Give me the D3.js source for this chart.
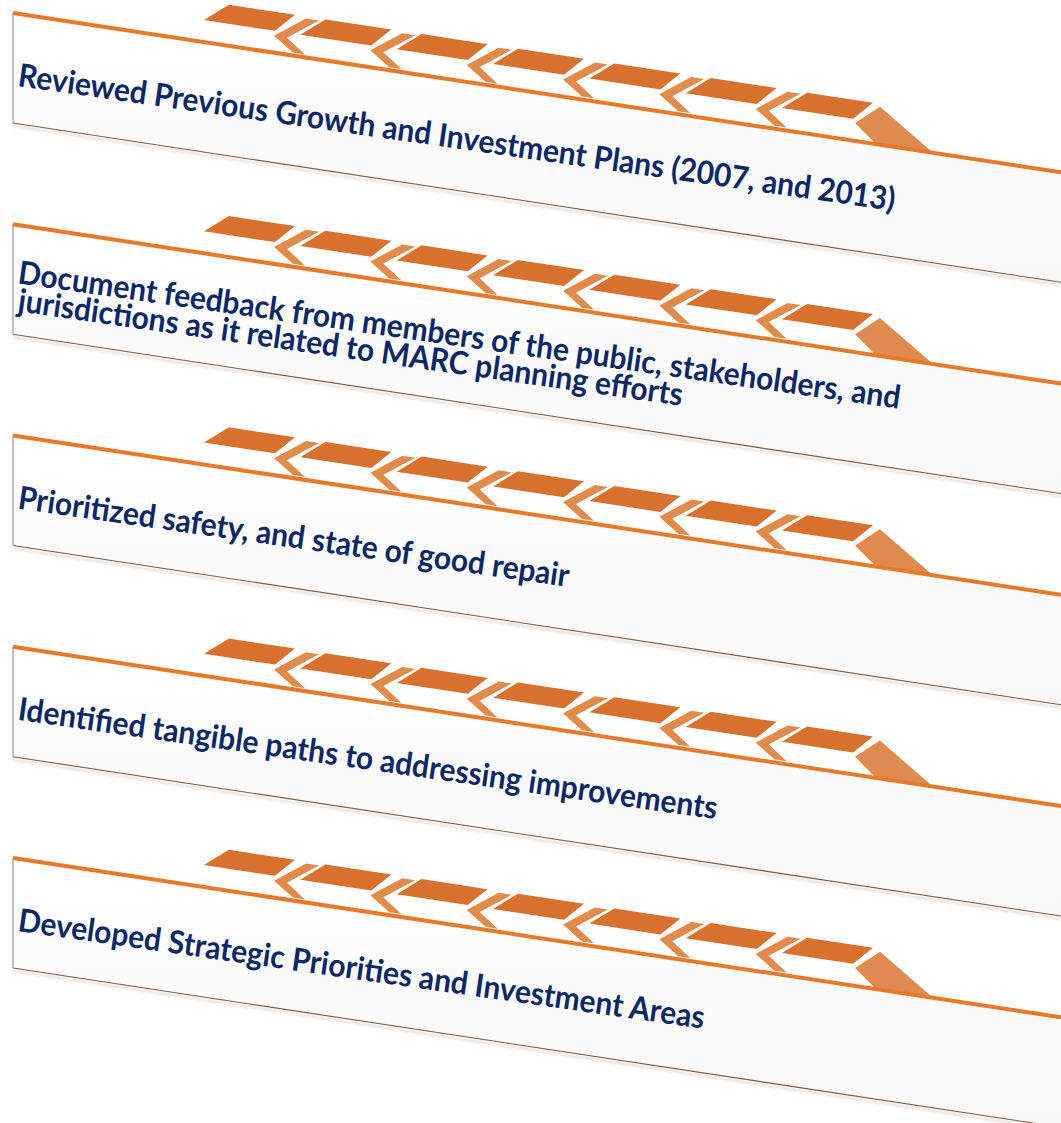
<!DOCTYPE html>
<html>
<head>
<meta charset="utf-8">
<script src="https://cdn.jsdelivr.net/npm/d3@7"></script>
<style>
  body { margin: 0; background: #fff; }
  svg { display: block; }
</style>
</head>
<body>
<svg id="chart"></svg>
<script>
// steps, top to bottom
const stepIds = ["s1", "s2", "s3", "s4", "s5"];
const stepLines = [
  ["Reviewed Previous Growth and Investment Plans (2007, and 2013)"],
  ["Document feedback from members of the public, stakeholders, and",
   "jurisdictions as it related to MARC planning efforts"],
  ["Prioritized safety, and state of good repair"],
  ["Identified tangible paths to addressing improvements"],
  ["Developed Strategic Priorities and Investment Areas"]
];
// track blocks on top of every step and the chevrons between them
const blockIds = [0, 1, 2, 3, 4, 5, 6];
const chevronIds = [0, 1, 2, 3, 4, 5];

const width = 1061, height = 1123;
const left = 13;
const bandH = 110;
const slope = 0.152;
const textAngle = 8.1;
const refTextLen = 886;

const svg = d3.select("#chart")
  .attr("width", width)
  .attr("height", height);

const defs = svg.append("defs");
const grad = defs.append("linearGradient")
  .attr("id", "bandFill")
  .attr("x1", 0).attr("y1", 0).attr("x2", 0).attr("y2", 1);
grad.append("stop").attr("offset", "0%").attr("stop-color", "#ffffff");
grad.append("stop").attr("offset", "100%").attr("stop-color", "#f7f7f7");

const shadow = defs.append("filter")
  .attr("id", "edgeShadow")
  .attr("x", "-5%").attr("y", "-50%").attr("width", "110%").attr("height", "200%");
shadow.append("feGaussianBlur").attr("stdDeviation", 1.2);

const y = d3.scalePoint()
  .domain(stepIds)
  .range([13, 858]);

const x = d3.scaleLinear()
  .domain([0, blockIds.length - 1])
  .range([229, 807]);

// y of the orange top edge inside a band group
const ly = px => slope * (px - left);
const pt = (px, dy) => [px, ly(px) + dy];
const poly = pts => "M" + pts.map(p => p.join(",")).join("L") + "Z";

let sx = 1;

stepIds.forEach((id, i) => {
  const g = svg.append("g")
    .attr("transform", `translate(0,${y(id)})`);

  // faint reflection under the band
  g.append("line")
    .attr("x1", left).attr("y1", bandH + 3)
    .attr("x2", width).attr("y2", ly(width) + bandH + 3)
    .attr("stroke", "#b58a70")
    .attr("stroke-width", 2)
    .attr("opacity", 0.3)
    .attr("filter", "url(#edgeShadow)");

  g.append("path")
    .attr("d", poly([pt(left, 0), pt(width, 0), pt(width, bandH), pt(left, bandH)]))
    .attr("fill", "url(#bandFill)");

  g.append("line")
    .attr("x1", left).attr("y1", bandH)
    .attr("x2", width).attr("y2", ly(width) + bandH)
    .attr("stroke", "#7d5a45")
    .attr("stroke-width", 1.1);

  g.append("line")
    .attr("x1", left).attr("y1", 0)
    .attr("x2", left).attr("y2", bandH)
    .attr("stroke", "#a8928a")
    .attr("stroke-width", 1.2);

  // chevrons
  g.selectAll(".chev")
    .data(chevronIds)
    .join("path")
    .attr("class", "chev")
    .attr("d", k => {
      const t = x(k) + 45;
      return poly([
        pt(t + 32, -39), pt(t, -17), pt(t + 19, -3),
        pt(t + 31, -3), pt(t + 13, -17), pt(t + 45, -39)
      ]);
    })
    .attr("fill", "#e08a4c");

  // blocks
  g.selectAll(".block")
    .data(blockIds)
    .join("path")
    .attr("class", "block")
    .attr("d", k => {
      const x0 = x(k);
      return poly([pt(x0, -41), pt(x0 + 66, -41), pt(x0 + 46, -22), pt(x0 - 25, -22)]);
    })
    .attr("fill", "#d8702e");

  // end piece
  const xe = x(blockIds.length - 1);
  g.append("path")
    .attr("d", poly([pt(xe + 73, -38), pt(xe + 48, -18), pt(xe + 68, -1), pt(xe + 126, 0)]))
    .attr("fill", "#df8a4e");

  g.append("line")
    .attr("x1", left).attr("y1", 0)
    .attr("x2", width).attr("y2", ly(width))
    .attr("stroke", "#e8782a")
    .attr("stroke-width", 4);

  const lines = stepLines[i];
  const base0 = 73 - (lines.length - 1) * 14;
  lines.forEach((txt, j) => {
    const t = g.append("text")
      .attr("transform", `translate(17,${base0 + j * 28}) rotate(${textAngle})`)
      .attr("font-family", "Lato, 'Open Sans', sans-serif")
      .attr("font-weight", 700)
      .attr("font-size", 32)
      .attr("fill", "#0b2764")
      .text(txt);
    if (i === 0 && j === 0) sx = refTextLen / t.node().getComputedTextLength();
    t.attr("transform", `translate(17,${base0 + j * 28}) rotate(${textAngle}) scale(${sx},1)`);
  });
});
</script>
</body>
</html>
